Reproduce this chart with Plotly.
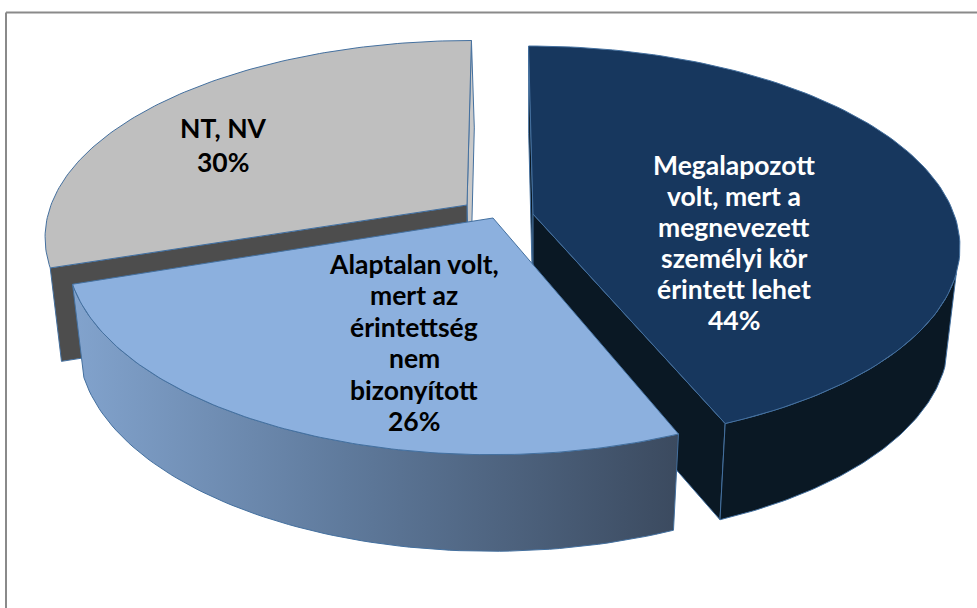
import numpy as np
import plotly.graph_objects as go

# slice names and shares
names = [["Megalapozott", "volt, mert a", "megnevezett", "személyi kör", "érintett lehet"],
         ["Alaptalan volt,", "mert az", "érintettség", "nem", "bizonyított"],
         ["NT, NV"]]
shares = [43.8, 26.1, 30.1]

top_colors = ["#17375e", "#8cb0de", "#bfbfbf"]
wall_colors = ["#0a1824", None, "#4d4d4d"]
back_colors = ["#0a1824", None, "#c9c9c9"]
text_colors = ["white", "black", "black"]
edge_color = "#44709f"

# apex of each exploded slice on the canvas, and its radius on the two axes
apex_x = [533, 493, 467]
apex_y = [214, 218, 205]
radius_x = [421, 421, 416]
radius_y = [194, 200, 190]
label_x = [734, 414, 223]
label_y = [165, 264, 128]
label_gap = [31, 31.4, 34]

center_x = 500
tilt = 0.155
depth = 92
shrink = 0.973


def project(i, angle):
    # pie angle (clockwise from the back) to the canvas, with perspective
    a = np.radians(angle)
    front = -np.cos(a)
    scale = 1 / (1 - tilt * front)
    x = center_x + (apex_x[i] - center_x + radius_x[i] * np.sin(a)) * scale
    y = apex_y[i] + radius_y[i] * front * scale
    return x, y


def lower(i, x, y, angle):
    # same point on the underside of the slice
    front = -np.cos(np.radians(angle))
    return apex_x[i] + (x - apex_x[i]) * shrink, y + depth * (1 + 0.05 * front)


def add_poly(fig, xs, ys, color, gradient=None):
    trace = dict(x=list(xs) + [xs[0]], y=list(ys) + [ys[0]], mode="lines", fill="toself",
                 line=dict(color=edge_color, width=1), showlegend=False, hoverinfo="skip")
    if gradient:
        trace["fillgradient"] = dict(type="horizontal", colorscale=gradient)
    else:
        trace["fillcolor"] = color
    fig.add_trace(go.Scatter(**trace))


def add_wall(fig, i, arc_from, arc_to, gradient=None):
    # outer wall, only the part that faces the viewer
    a = np.linspace(arc_from, arc_to, 80)
    x, y = project(i, a)
    bx, by = lower(i, x, y, a)
    add_poly(fig, np.r_[x, bx[::-1]], np.r_[y, by[::-1]], wall_colors[i], gradient)


def add_top(fig, i, start, stop):
    a = np.linspace(start, stop, 120)
    x, y = project(i, a)
    add_poly(fig, np.r_[apex_x[i], x], np.r_[apex_y[i], y], top_colors[i])


def add_cut(fig, i, angle, color, drift=0):
    # flat wall between the apex and the rim
    x, y = project(i, angle)
    bx, by = lower(i, x, y, angle)
    add_poly(fig, [apex_x[i], x, bx + drift, apex_x[i] + drift],
             [apex_y[i], y, by, apex_y[i] + depth], color)


bounds = np.r_[0, np.cumsum(shares)] * 3.6

fig = go.Figure()

# grey slice first, it sits at the back
add_cut(fig, 2, bounds[3], back_colors[2], drift=3)
add_cut(fig, 2, bounds[2], wall_colors[2])
add_top(fig, 2, bounds[2], bounds[3])

# dark blue slice
add_cut(fig, 0, bounds[0], back_colors[0])
add_cut(fig, 0, bounds[1], wall_colors[0])
add_wall(fig, 0, 107, bounds[1])
add_top(fig, 0, bounds[0], bounds[1])

# light blue slice in front
add_wall(fig, 1, bounds[1], bounds[2],
         gradient=[[0, "#82a3cd"], [0.45, "#5f7a9c"], [1, "#3b4a5f"]])
add_top(fig, 1, bounds[1], bounds[2])

# one annotation per line, the line gaps differ between the labels
for i, name in enumerate(names):
    lines = name + [f"{shares[i]:.0f}%"]
    for n, line in enumerate(lines):
        fig.add_annotation(x=label_x[i], y=label_y[i] + n * label_gap[i], text=line, showarrow=False,
                           font=dict(family="Lato", size=26.5, color=text_colors[i], weight="bold"))

# chart frame, only the top and left sides are in the picture
fig.add_shape(type="line", x0=6, y0=12.5, x1=977, y1=12.5, line=dict(color="#8a8a8a", width=2), layer="below")
fig.add_shape(type="line", x0=6, y0=12.5, x1=6, y1=608, line=dict(color="#8a8a8a", width=2), layer="below")

fig.update_xaxes(range=[0, 977], visible=False)
fig.update_yaxes(range=[608, 0], visible=False)
fig.update_layout(width=977, height=608, margin=dict(l=0, r=0, t=0, b=0),
                  plot_bgcolor="white", paper_bgcolor="white")

fig.write_html("out.html", config=dict(displayModeBar=False), post_script="document.body.style.margin='0';")
